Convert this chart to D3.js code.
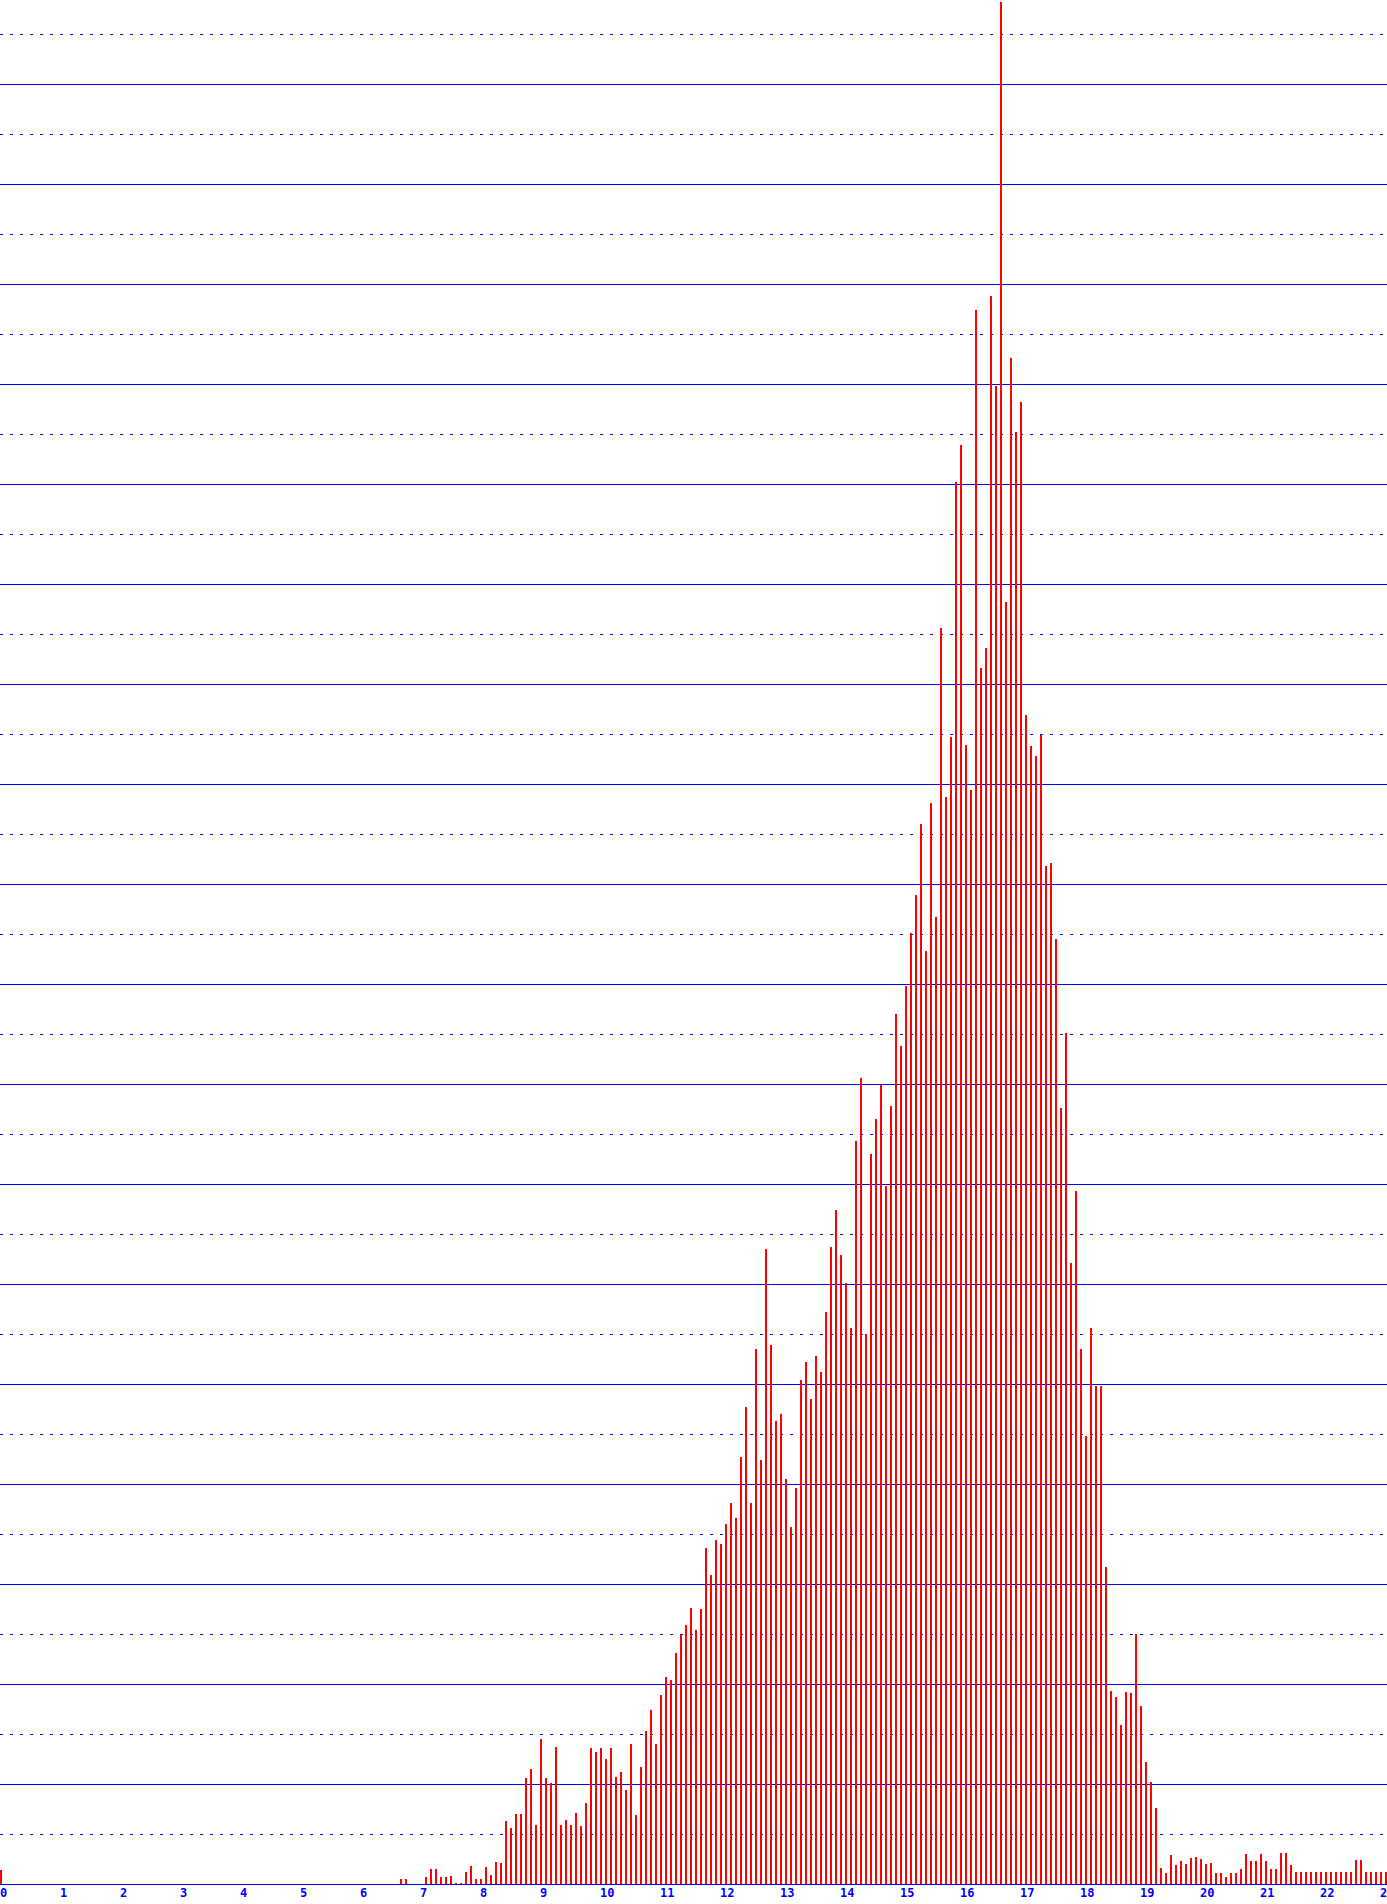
<!DOCTYPE html>
<html>
<head>
<meta charset="utf-8">
<script src="https://cdn.jsdelivr.net/npm/d3@7"></script>
<style>
  html, body { margin: 0; padding: 0; background: #ffffff; }
  svg { display: block; }
</style>
</head>
<body>
<script>
// Hour-of-day tick labels (x axis)
const hourLabels = ["0","1","2","3","4","5","6","7","8","9","10","11","12","13","14","15","16","17","18","19","20","21","22","23"];

// Five-minute bins: values in gridline units (one solid gridline = 1), one row per hour
const hour00 = [0.14,0,0,0,0,0,0,0,0,0,0,0];
const hour01 = [0,0,0,0,0,0,0,0,0,0,0,0];
const hour02 = [0,0,0,0,0,0,0,0,0,0,0,0];
const hour03 = [0,0,0,0,0,0,0,0,0,0,0,0];
const hour04 = [0,0,0,0,0,0,0,0,0,0,0,0];
const hour05 = [0,0,0,0,0,0,0,0,0,0,0,0];
const hour06 = [0,0,0,0,0,0,0,0,0.05,0.05,0,0];
const hour07 = [0,0.07,0.15,0.15,0.07,0.07,0.08,0.01,0.01,0.12,0.18,0.05];
const hour08 = [0.05,0.17,0.09,0.22,0.21,0.63,0.56,0.70,0.70,1.06,1.15,0.59];
const hour09 = [1.45,1.06,1.01,1.37,0.59,0.64,0.59,0.71,0.58,0.81,1.36,1.32];
const hour10 = [1.36,1.25,1.36,1.07,1.12,0.94,1.40,0.69,1.17,1.53,1.74,1.40];
const hour11 = [1.89,2.07,2.04,2.31,2.49,2.59,2.76,2.54,2.75,3.36,3.09,3.44];
const hour12 = [3.40,3.60,3.81,3.66,4.27,4.77,3.81,5.35,4.24,6.35,5.39,4.63];
const hour13 = [4.70,4.05,3.57,3.96,5.04,5.22,4.85,5.28,5.12,5.72,6.37,6.74];
const hour14 = [6.29,6.01,5.56,7.43,8.06,5.50,7.30,7.65,7.99,6.98,7.78,8.70];
const hour15 = [8.38,8.98,9.51,9.89,10.60,9.33,10.81,9.67,12.56,10.87,11.47,14.02];
const hour16 = [14.39,11.39,10.94,15.74,12.16,12.36,15.88,14.98,18.82,12.82,15.26,14.52];
const hour17 = [14.82,11.69,11.38,11.28,11.49,10.18,10.21,9.45,7.76,8.51,6.21,6.93];
const hour18 = [5.35,4.48,5.56,4.98,4.98,3.17,1.93,1.87,1.59,1.92,1.91,2.50];
const hour19 = [1.78,1.22,1.02,0.76,0.16,0.11,0.29,0.19,0.23,0.20,0.26,0.27];
const hour20 = [0.25,0.20,0.21,0.11,0.11,0.07,0.11,0.11,0.15,0.30,0.23,0.23];
const hour21 = [0.30,0.23,0.15,0.15,0.31,0.31,0.19,0.12,0.12,0.12,0.12,0.12];
const hour22 = [0.12,0.12,0.12,0.12,0.12,0.12,0.12,0.24,0.24,0.12,0.12,0.12];
const hour23 = [0.12,0.12];

const binsPerHour = 12;
const values = [].concat(hour00,hour01,hour02,hour03,hour04,hour05,hour06,hour07,
  hour08,hour09,hour10,hour11,hour12,hour13,hour14,hour15,hour16,hour17,hour18,
  hour19,hour20,hour21,hour22,hour23);
const data = values.map((v, i) => ({ t: i / binsPerHour, v: v }));

const W = 1387, H = 1904;
const baseY = 1884;

const x = d3.scaleLinear().domain([0, 24]).range([0, 1440]);
const y = d3.scaleLinear().domain([0, 18.84]).range([baseY, 0]);

const svg = d3.select("body").append("svg")
  .attr("width", W).attr("height", H)
  .attr("viewBox", `0 0 ${W} ${H}`);

svg.append("rect").attr("width", W).attr("height", H).attr("fill", "#ffffff");

// Gridlines: solid every 1 unit, dashed at the half units
const gridVals = d3.range(0.5, 18.84, 0.5);
svg.append("g").selectAll("line")
  .data(gridVals)
  .join("line")
  .attr("x1", 0).attr("x2", W)
  .attr("y1", d => Math.round(y(d)) + 0.5)
  .attr("y2", d => Math.round(y(d)) + 0.5)
  .attr("stroke", "#0000ff")
  .attr("stroke-width", 1)
  .attr("stroke-dasharray", d => (Math.round(d * 2) % 2 === 0) ? null : "3,7")
  .attr("shape-rendering", "crispEdges");

// Bars
svg.append("g").selectAll("rect")
  .data(data.filter(d => d.v > 0))
  .join("rect")
  .attr("x", d => Math.round(x(d.t)))
  .attr("width", 2)
  .attr("y", d => Math.round(y(d.v)))
  .attr("height", d => baseY - Math.round(y(d.v)))
  .attr("fill", "#ff0000")
  .attr("shape-rendering", "crispEdges");

// Baseline axis
svg.append("line")
  .attr("x1", 0).attr("x2", W)
  .attr("y1", baseY + 0.5).attr("y2", baseY + 0.5)
  .attr("stroke", "#0000ff").attr("stroke-width", 1)
  .attr("shape-rendering", "crispEdges");

// Hour labels
svg.append("g").selectAll("text")
  .data(hourLabels)
  .join("text")
  .attr("x", (d, i) => x(i))
  .attr("y", 1897)
  .attr("text-anchor", "start")
  .attr("fill", "#0000ff")
  .attr("font-family", "'DejaVu Sans Mono', monospace")
  .attr("font-weight", "bold")
  .attr("font-size", "12px")
  .text(d => d);
</script>
</body>
</html>
